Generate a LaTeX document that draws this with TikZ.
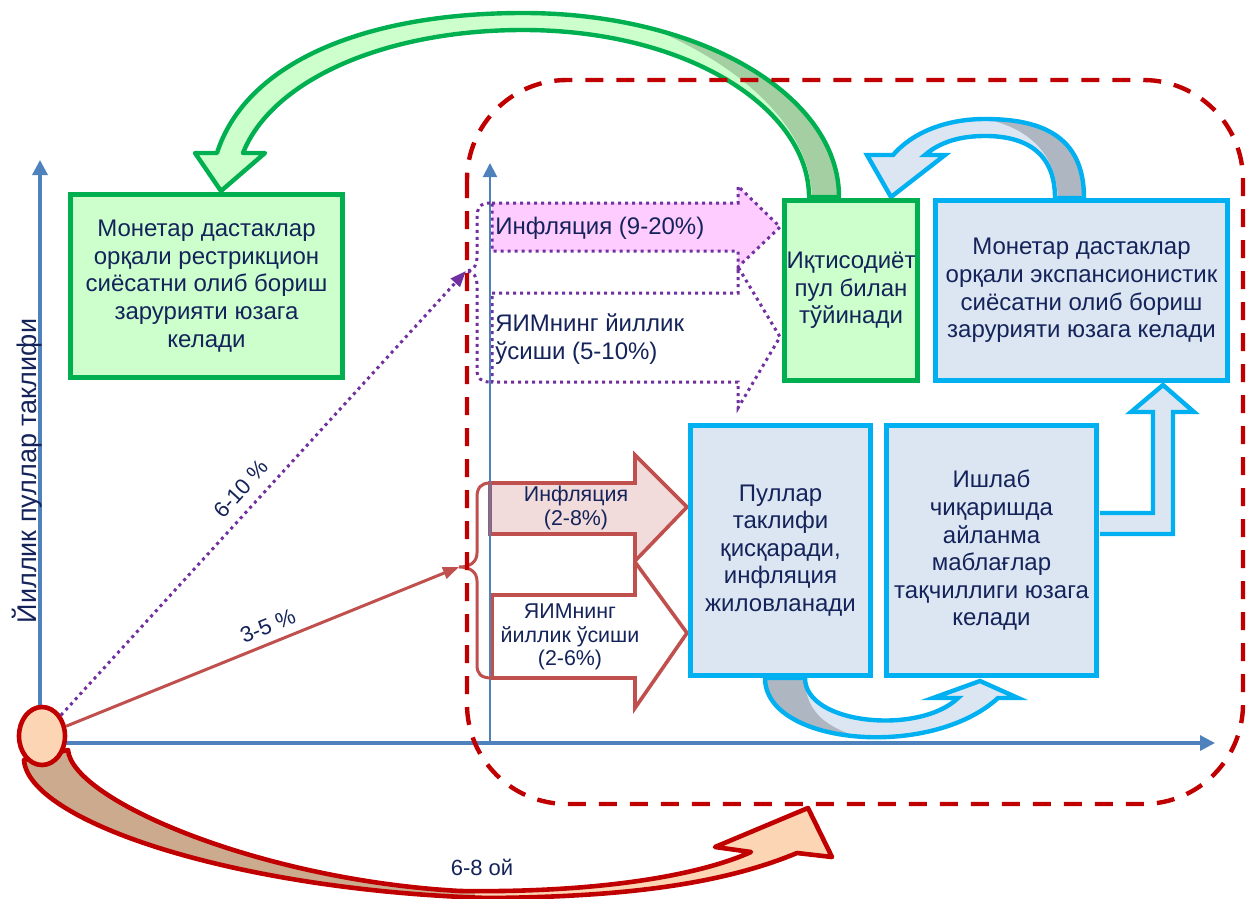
\documentclass[tikz,border=0pt]{standalone}
\usepackage{fontspec}
\setmainfont{Liberation Sans}
\usetikzlibrary{arrows.meta,shapes.geometric}

\definecolor{grnD}{HTML}{00B050}
\definecolor{grnL}{HTML}{CCFFCC}
\definecolor{grnS}{HTML}{A3CFA3}
\definecolor{bluD}{HTML}{00B0F0}
\definecolor{bluL}{HTML}{DCE6F2}
\definecolor{bluS}{HTML}{AEB6C1}
\definecolor{axc}{HTML}{4F81BD}
\definecolor{purp}{HTML}{7030A0}
\definecolor{pinkL}{HTML}{FFCCFF}
\definecolor{redA}{HTML}{C0504D}
\definecolor{redL}{HTML}{F2DCDB}
\definecolor{redD}{HTML}{C00000}
\definecolor{peach}{HTML}{FCD5B4}
\definecolor{tanS}{HTML}{CCAA8E}
\definecolor{txt}{HTML}{14235A}

% outlines of the curved block arrows
\newcommand{\greenarc}{(809,197) .. controls (809,110) and (690,30) .. (523,30) .. controls (385,30) and (272,80) .. (243,153) -- (265,153) -- (221,191) -- (195,153) -- (217,153) .. controls (245,65) and (360,13) .. (523,13) .. controls (700,13) and (839,95) .. (839,197) -- cycle}
\newcommand{\bluearc}{(1055,198) .. controls (1055,152) and (1025,136) .. (985,136) .. controls (960,136) and (940,142) .. (925,155) -- (945,155) -- (891,197) -- (867,155) -- (893,155) .. controls (912,133) and (945,119) .. (985,119) .. controls (1040,119) and (1084,135) .. (1084,198) -- cycle}
\newcommand{\lowarc}{(805,678) .. controls (805,725) and (920,735) .. (958,698) -- (933,698) -- (980,681) -- (1018,698) -- (998,698) .. controls (930,760) and (765,745) .. (765,678) -- cycle}
\newcommand{\redarc}{(68,750) .. controls (72,800) and (260,880) .. (460,891) .. controls (600,893) and (700,875) .. (751,852) -- (715,847) -- (808,808) -- (832,857) -- (797,853) .. controls (720,885) and (620,897) .. (488,898) .. controls (230,890) and (28,820) .. (24,760) -- cycle}

\begin{document}
\begin{tikzpicture}[
        x=0.5pt, y=-0.5pt,
        font=\fontsize{12}{13.8}\selectfont,
        text=txt
    ]
    \tikzset{
        gbox/.style = {rectangle, draw=grnD, fill=grnL, line width=2.3pt, align=center, inner sep=0pt},
        bbox/.style = {rectangle, draw=bluD, fill=bluL, line width=2.5pt, align=center, inner sep=0pt},
        axisl/.style = {draw=axc, line width=1.6pt, -{Triangle[length=7.5pt,width=7.5pt]}},
        axisn/.style = {draw=axc, line width=1pt, -{Triangle[length=7pt,width=7pt]}},
        pdot/.style = {draw=purp, line width=1.5pt, dash pattern=on 1.5pt off 2pt},
        rline/.style = {draw=redA, line width=1.5pt},
        rblock/.style = {draw=redA, line width=1.8pt, line join=miter},
        gblock/.style = {draw=grnD, line width=2.2pt, line join=round},
        bblock/.style = {draw=bluD, line width=2.2pt, line join=miter},
        cblock/.style = {draw=redD, line width=2.3pt, line join=round},
        frame/.style = {draw=redD, line width=2.2pt, dash pattern=on 9pt off 6.5pt, rounded corners=50pt},
        lbl/.style = {font=\fontsize{11}{13}\selectfont, inner sep=1pt},
        rtxt/.style = {align=center, font=\fontsize{10.7}{11.7}\selectfont},
    }
    \useasboundingbox (0,0) rectangle (1247,899);
    %
    \fill[peach] \redarc;
    \begin{scope}
        \clip \redarc;
        \fill[tanS] (0,700) rectangle (475,899);
    \end{scope}
    \draw[cblock] \redarc;
    %
    \fill[grnL] \greenarc;
    \begin{scope}
        \clip \greenarc;
        \fill[grnS] (560,0) .. controls (700,30) and (812,110) .. (812,200) -- (900,200) -- (900,0) -- cycle;
    \end{scope}
    \draw[gblock] \greenarc;
    %
    \fill[bluL] \bluearc;
    \begin{scope}
        \clip \bluearc;
        \fill[bluS] (960,100) -- (985,119) .. controls (1030,128) and (1057,155) .. (1058,200) -- (1100,200) -- (1100,100) -- cycle;
    \end{scope}
    \draw[bblock] \bluearc;
    %
    \fill[bluL] \lowarc;
    \begin{scope}
        \clip \lowarc;
        \fill[bluS] (750,670) -- (805,670) -- (805,678) .. controls (805,715) and (830,732) .. (880,742) -- (880,760) -- (750,760) -- cycle;
    \end{scope}
    \draw[bblock] \lowarc;
    %
    \draw[pdot, fill=white] (492,293) -- (738,293) -- (738,267) -- (780,337) -- (738,408) -- (738,382) -- (492,382) -- cycle;
    \draw[pdot, fill=pinkL] (492,203) -- (738,203) -- (738,186) -- (780,227) -- (738,267) -- (738,251) -- (492,251) -- cycle;
    \draw[rblock, fill=redL] (490,483) -- (635,483) -- (635,455) -- (687,507) -- (635,561) -- (635,534) -- (490,534) -- cycle;
    \draw[rblock, fill=white] (492,595) -- (635,595) -- (635,562) -- (687,633) -- (635,708) -- (635,678) -- (492,678) -- cycle;
    %
    \coordinate (org) at (40,743);
    \coordinate (ytop) at (40,160);
    \coordinate (xend) at (1215,743);
    \coordinate (yb) at (490,743);
    \coordinate (yt) at (490,163);
    \draw[axisl] (org) -- (ytop);
    \draw[axisl] (org) -- (xend);
    \draw[axisn] (yb) -- (yt);
    %
    \draw[pdot] (490,203) .. controls (480,203) and (477,208) .. (477,218) -- (477,256) .. controls (477,266) and (473,271) .. (466,271) .. controls (473,271) and (477,276) .. (477,286) -- (477,370) .. controls (477,378) and (481,382) .. (490,382);
    \draw[rline] (490,483) .. controls (481,483) and (477,488) .. (477,497) -- (477,553) .. controls (477,562) and (470,567) .. (459,567) .. controls (470,567) and (477,572) .. (477,581) -- (477,665) .. controls (477,674) and (481,678) .. (492,678);
    \coordinate (pb) at (466,271);
    \coordinate (rb) at (459,567);
    %
    \node[ellipse, draw=redD, fill=peach, line width=2.3pt, minimum width=23pt, minimum height=29pt, inner sep=0pt] (o) at (42,736) {};
    \draw[pdot, -{Triangle[length=8pt,width=6pt]}] (o) -- (pb) node[lbl, sloped, above=4pt, pos=0.48] {6-10 \%};
    \draw[rline, -{Triangle[length=8pt,width=6pt]}] (o) -- (rb) node[lbl, sloped, above=3pt, pos=0.53] {3-5 \%};
    %
    \node[gbox, minimum width=136pt, minimum height=91.5pt] (rbox) at (206.5,286) {Монетар дастаклар\\орқали рестрикцион\\сиёсатни олиб бориш\\зарурияти юзага\\келади};
    \node[gbox, minimum width=66.5pt, minimum height=90pt] (ebox) at (851,290.5) {Иқтисодиёт\\пул билан\\тўйинади};
    \node[bbox, minimum width=146pt, minimum height=90pt] (xbox) at (1081.5,290.5) {Монетар дастаклар\\орқали экспансионистик\\сиёсатни олиб бориш\\зарурияти юзага келади};
    \node[bbox, minimum width=90pt, minimum height=125pt] (pbox) at (780.5,550.5) {Пуллар\\таклифи\\қисқаради,\\инфляция\\жиловланади};
    \node[bbox, minimum width=105pt, minimum height=125pt] (wbox) at (991.5,550.5) {Ишлаб\\чиқаришда\\айланма\\маблағлар\\тақчиллиги юзага\\келади};
    \draw[bblock, fill=bluL] (1100,513) -- (1153,513) -- (1153,412) -- (1131,412) -- (1163,385) -- (1194,412) -- (1173,412) -- (1173,534) -- (1100,534);
    %
    \draw[frame] (467,80) rectangle (1243,804);
    %
    \node[anchor=west, inner sep=0pt] (tinf) at (495,228) {Инфляция (9-20\%)};
    \node[anchor=west, align=left, inner sep=0pt] (tyim) at (495,339) {ЯИМнинг йиллик\\ўсиши (5-10\%)};
    \node[rtxt] (tinf2) at (576,508) {Инфляция\\(2-8\%)};
    \node[rtxt] (tyim2) at (570,637) {ЯИМнинг\\йиллик ўсиши\\(2-6\%)};
    \node[lbl, rotate=90, font=\fontsize{13.5}{16}\selectfont] (ylab) at (27,471) {Йиллик пуллар таклифи};
    \node[lbl] (tlab) at (482,867) {6-8 ой};
\end{tikzpicture}
\end{document}
